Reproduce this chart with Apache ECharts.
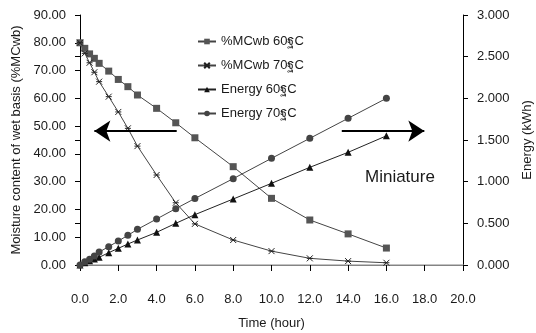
<!DOCTYPE html>
<html><head><meta charset="utf-8">
<script src="https://cdn.jsdelivr.net/npm/echarts@6/dist/echarts.min.js"></script>
<style>html,body{margin:0;padding:0;background:#fff}#c{width:536px;height:333px}</style>
</head><body><div id="c"></div>
<script>
var times = [0, 0.25, 0.5, 0.75, 1, 1.5, 2, 2.5, 3, 4, 5, 6, 8, 10, 12, 14, 16];
var mc60 = [80.0, 78.0, 76.0, 74.4, 72.6, 69.8, 66.8, 64.2, 61.2, 56.4, 51.2, 45.8, 35.4, 24.0, 16.2, 11.2, 6.1];
var mc70 = [80.0, 76.2, 72.8, 69.4, 66.0, 60.6, 55.1, 49.2, 42.8, 32.4, 22.4, 14.8, 9.0, 5.0, 2.4, 1.4, 0.8];
var en60 = [0, 0.028, 0.052, 0.072, 0.092, 0.148, 0.200, 0.252, 0.300, 0.392, 0.500, 0.604, 0.792, 0.980, 1.172, 1.352, 1.550];
var en70 = [0, 0.040, 0.068, 0.108, 0.156, 0.220, 0.288, 0.356, 0.428, 0.552, 0.676, 0.798, 1.036, 1.280, 1.520, 1.760, 2.000];
var seriesNames = ['%MCwb 60ฐC', '%MCwb 70ฐC', 'Energy 60ฐC', 'Energy 70ฐC'];
var xTicks = {min: 0, max: 20, interval: 2};
var leftTicks = {min: 0, max: 90, interval: 10};
var rightTicks = {min: 0, max: 3, interval: 0.5};
var arrowLeft = [[5.05, 48.2], [0.75, 48.2]];
var arrowRight = [[13.67, 48.2], [17.98, 48.2]];
var annotation = 'Miniature';

function pairs(xs, ys) { return xs.map(function (x, i) { return [x, ys[i]]; }); }

var FONT = '"Liberation Sans", Arial, "Noto Sans", sans-serif';
var TXT = '#1a1a1a';
var LINE = '#444';
var crossPath = 'path://M0,0L10,10M10,0L0,10M0,5L10,5';

var chart = echarts.init(document.getElementById('c'), null, {renderer: 'canvas'});
chart.setOption({
  animation: false,
  textStyle: {fontFamily: FONT, color: TXT},
  grid: {left: 80, right: 73, top: 15, bottom: 68, containLabel: false, outerBoundsMode: 'none'},
  legend: {
    orient: 'vertical', left: 192, top: 30, itemGap: 11, itemWidth: 18, itemHeight: 7,
    textStyle: {fontFamily: FONT, fontSize: 13, color: TXT},
    data: seriesNames
  },
  title: {
    text: annotation, left: 360, top: 164,
    textStyle: {fontFamily: FONT, fontSize: 17, fontWeight: 'normal', color: TXT}
  },
  xAxis: [{
    type: 'value', min: xTicks.min, max: xTicks.max, interval: xTicks.interval,
    name: 'Time (hour)', nameLocation: 'middle', nameGap: 52,
    nameTextStyle: {fontFamily: FONT, fontSize: 13, color: TXT},
    axisLine: {onZero: false, lineStyle: {color: '#000', width: 1}},
    axisTick: {show: true, inside: false, length: 6, lineStyle: {color: '#000'}},
    axisLabel: {margin: 28, fontSize: 13, color: TXT, fontFamily: FONT,
      formatter: function (v) { return v.toFixed(1); }},
    splitLine: {show: false}
  }, {
    type: 'value', position: 'top', min: xTicks.min, max: xTicks.max,
    axisLine: {show: true, lineStyle: {color: '#b0b0b0', width: 1.5}},
    axisTick: {show: false}, axisLabel: {show: false}, splitLine: {show: false}
  }],
  yAxis: [{
    type: 'value', min: leftTicks.min, max: leftTicks.max, interval: leftTicks.interval,
    name: 'Moisture content of wet basis (%MCwb)', nameLocation: 'middle', nameGap: 48,
    nameTextStyle: {fontFamily: FONT, fontSize: 13, color: TXT},
    axisLine: {show: true, onZero: false, lineStyle: {color: '#000', width: 1}},
    axisTick: {show: true, length: 5, lineStyle: {color: '#000'}},
    axisLabel: {margin: 14, fontSize: 13, color: TXT, fontFamily: FONT,
      formatter: function (v) { return v.toFixed(2); }},
    splitLine: {show: false}
  }, {
    type: 'value', position: 'right', min: rightTicks.min, max: rightTicks.max, interval: rightTicks.interval,
    name: 'Energy (kWh)', nameLocation: 'middle', nameGap: 55,
    nameTextStyle: {fontFamily: FONT, fontSize: 13, color: TXT},
    axisLine: {show: true, onZero: false, lineStyle: {color: '#000', width: 1}},
    axisTick: {show: true, length: 5, lineStyle: {color: '#000'}},
    axisLabel: {margin: 14, fontSize: 13, color: TXT, fontFamily: FONT,
      formatter: function (v) { return v.toFixed(3); }},
    splitLine: {show: false}
  }, {
    type: 'value', position: 'right', min: rightTicks.min, max: rightTicks.max, interval: rightTicks.interval,
    axisLine: {show: false},
    axisTick: {show: true, inside: true, length: 5, lineStyle: {color: '#000'}},
    axisLabel: {show: false}, splitLine: {show: false}
  }],
  series: [{
    name: seriesNames[0], type: 'line', yAxisIndex: 0, data: pairs(times, mc60),
    symbol: 'rect', symbolSize: 7, showAllSymbol: true,
    lineStyle: {color: LINE, width: 1}, itemStyle: {color: '#555'},
    markLine: {
      silent: true, symbol: ['none', 'arrow'], symbolSize: [16, 16],
      lineStyle: {color: '#000', width: 2, type: 'solid'}, label: {show: false},
      data: [
        [{coord: arrowLeft[0]}, {coord: arrowLeft[1]}],
        [{coord: arrowRight[0]}, {coord: arrowRight[1]}]
      ]
    }
  }, {
    name: seriesNames[1], type: 'line', yAxisIndex: 0, data: pairs(times, mc70),
    symbol: crossPath, symbolSize: 6, showAllSymbol: true,
    lineStyle: {color: LINE, width: 1}, itemStyle: {color: '#222', borderColor: '#222', borderWidth: 1}
  }, {
    name: seriesNames[2], type: 'line', yAxisIndex: 1, data: pairs(times, en60),
    symbol: 'triangle', symbolSize: 7, showAllSymbol: true,
    lineStyle: {color: '#222', width: 1}, itemStyle: {color: '#111'}
  }, {
    name: seriesNames[3], type: 'line', yAxisIndex: 1, data: pairs(times, en70),
    symbol: 'circle', symbolSize: 7, showAllSymbol: true,
    lineStyle: {color: LINE, width: 1}, itemStyle: {color: '#444'}
  }]
});
</script></body></html>
